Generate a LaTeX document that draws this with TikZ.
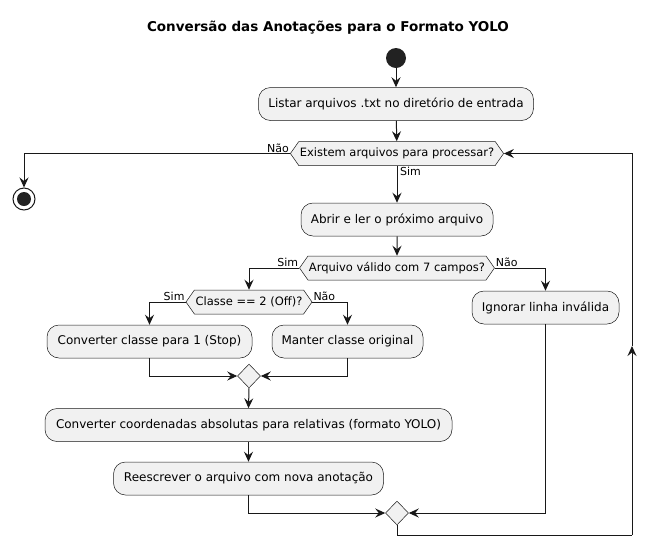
\documentclass[tikz,border=0pt]{standalone}
\usepackage{fontspec}
\setmainfont{DejaVu Sans}
\usetikzlibrary{arrows.meta,shapes.symbols,shapes.geometric}
\definecolor{puml}{HTML}{181818}
\definecolor{actfill}{HTML}{F1F1F1}
\definecolor{dotfill}{HTML}{222222}
\tikzset{
  act/.style={draw=puml, line width=0.5pt, fill=actfill, rounded corners=12pt,
    minimum height=33pt, inner xsep=0pt, font=\fontsize{12}{14}\selectfont},
  cond/.style={draw=puml, line width=0.5pt, fill=actfill, shape=signal,
    signal to=west and east, signal pointer angle=110, minimum height=24pt,
    inner xsep=1pt, inner ysep=0pt, font=\fontsize{11.5}{13}\selectfont},
  merge/.style={draw=puml, line width=0.5pt, fill=actfill, diamond,
    minimum width=23pt, minimum height=24pt, inner sep=0pt},
  lbl/.style={font=\fontsize{11}{13}\selectfont, inner sep=1pt},
  flow/.style={draw=puml, line width=1pt, -{Stealth[length=10pt,width=9pt,inset=3.5pt]}},
  line/.style={draw=puml, line width=1pt}
}
\begin{document}
\begin{tikzpicture}[x=1pt, y=-1pt]
\useasboundingbox (0,0) rectangle (657,558);
\node[font=\bfseries\fontsize{13.5}{16}\selectfont] (title) at (328,28) {Conversão das Anotações para o Formato YOLO};

% nodes
\node[circle, fill=dotfill, minimum size=20pt, inner sep=0pt] (start) at (396,58) {};
\node[act, minimum width=275pt] (listar) at (396,104) {Listar arquivos .txt no diretório de entrada};
\node[cond, minimum width=210pt] (existem) at (397,153.5) {Existem arquivos para processar?};
\node[circle, draw=puml, line width=1pt, fill=white, minimum size=22pt, inner sep=0pt] (stop) at (24,199) {};
\fill[dotfill] (stop.center) circle (7pt);
\node[act, minimum width=192pt] (abrir) at (397,219.5) {Abrir e ler o próximo arquivo};
\node[cond, minimum width=192pt] (valido) at (397,268) {Arquivo válido com 7 campos?};
\node[cond, minimum width=126pt] (classe) at (249,302) {Classe == 2 (Off)?};
\node[act, minimum width=147pt] (ignorar) at (545.5,307.5) {Ignorar linha inválida};
\node[act, minimum width=205pt] (convclasse) at (149.5,341.5) {Converter classe para 1 (Stop)};
\node[act, minimum width=151pt] (manter) at (347.5,341.5) {Manter classe original};
\node[merge] (merge1) at (249,376) {};
\node[act, minimum width=407pt] (coords) at (248.5,425) {Converter coordenadas absolutas para relativas (formato YOLO)};
\node[act, minimum width=270pt] (reescrever) at (248.5,478.5) {Reescrever o arquivo com nova anotação};
\node[merge] (merge2) at (397,513) {};
\coordinate (loopbase) at (632,535);
\coordinate (loopmid) at (632,346);

% connectors
\draw[flow] (start) -- (listar);
\draw[flow] (listar) -- (existem);
\draw[flow] (existem.west) -| (stop.north);
\draw[flow] (existem.south) -- (abrir.north);
\draw[flow] (abrir) -- (valido);
\draw[flow] (valido.west) -| (classe.north);
\draw[flow] (valido.east) -| (ignorar.north);
\draw[flow] (classe.west) -| (convclasse.north);
\draw[flow] (classe.east) -| (manter.north);
\draw[flow] (convclasse.south) |- (merge1.west);
\draw[flow] (manter.south) |- (merge1.east);
\draw[flow] (merge1.south) -- (coords.north);
\draw[flow] (coords) -- (reescrever);
\draw[flow] (reescrever.south) |- (merge2.west);
\draw[flow] (ignorar.south) |- (merge2.east);
\draw[line] (merge2.south) |- (loopbase);
\draw[flow] (loopbase) -- (loopmid);
\draw[flow] (loopmid) |- (existem.east);

% branch labels
\node[lbl, anchor=south east] (nao1) at (existem.west) {Não};
\node[lbl, anchor=north west] (sim1) at ([xshift=2pt]existem.south) {Sim};
\node[lbl, anchor=south east] (sim2) at (valido.west) {Sim};
\node[lbl, anchor=south west] (nao2) at (valido.east) {Não};
\node[lbl, anchor=south east] (sim3) at (classe.west) {Sim};
\node[lbl, anchor=south west] (nao3) at (classe.east) {Não};
\end{tikzpicture}
\end{document}
